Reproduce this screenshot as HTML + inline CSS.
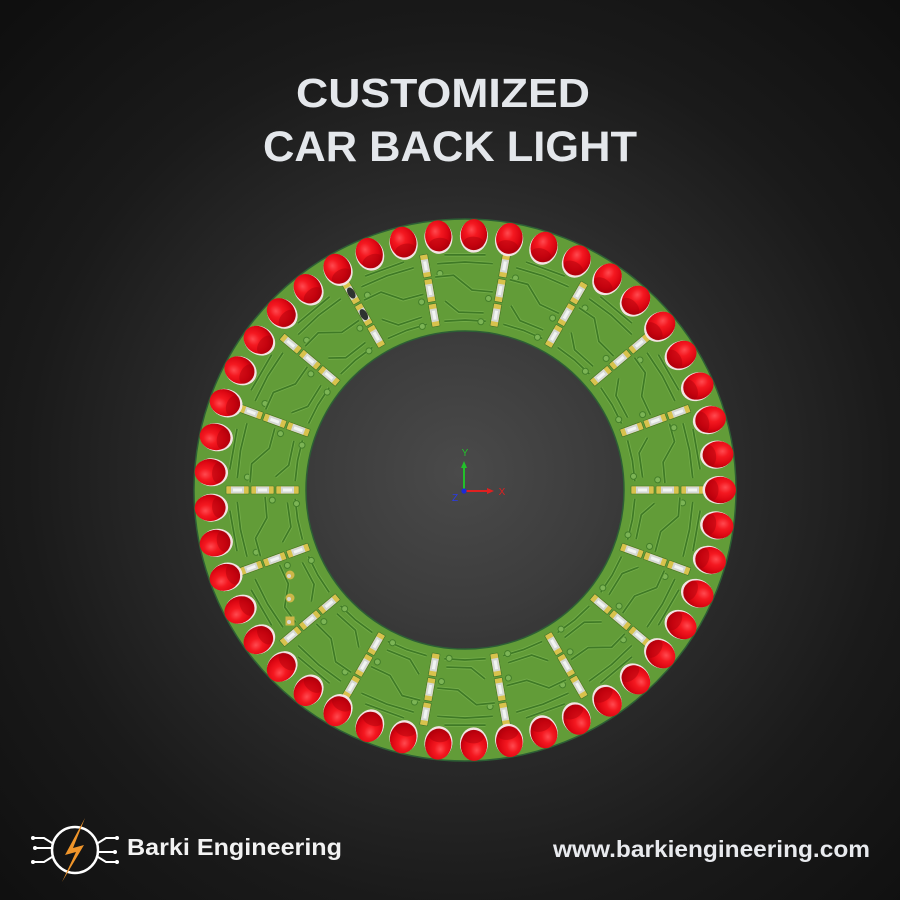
<!DOCTYPE html>
<html>
<head>
<meta charset="utf-8">
<style>
html,body{margin:0;padding:0;background:#111;}
#c{position:relative;width:900px;height:900px;overflow:hidden;
background:radial-gradient(ellipse 640px 640px at 460px 472px,#4a4a4a 0%,#3c3c3c 22%,#292929 45%,#1a1a1a 68%,#0f0f0f 100%);}
svg{position:absolute;left:0;top:0;}
</style>
</head>
<body>
<div id="c">
<svg width="900" height="900" viewBox="0 0 900 900" xmlns="http://www.w3.org/2000/svg">
<defs>
  <radialGradient id="lg" cx="0.62" cy="0.42" r="0.62" fx="0.66" fy="0.4">
    <stop offset="0" stop-color="#ff4a50"/>
    <stop offset="0.35" stop-color="#f41820"/>
    <stop offset="0.75" stop-color="#dc0612"/>
    <stop offset="1" stop-color="#b8000c"/>
  </radialGradient>
  <g id="led">
    <ellipse cx="719" cy="490" rx="16.5" ry="14" fill="#f3e4e4"/>
    <ellipse cx="720.5" cy="490" rx="15.5" ry="13.2" fill="url(#lg)"/>
    <ellipse cx="712" cy="490" rx="6.5" ry="10.5" fill="#a8000a" opacity="0.45"/>
  </g>
  <g id="pkg">
    <rect x="0" y="-4" width="23" height="8" rx="0.8" fill="#d8c24c" stroke="#3f7229" stroke-width="0.6"/>
    <rect x="5" y="-3.5" width="13" height="7" fill="#d4d8d4"/>
    <rect x="7" y="-1.5" width="9" height="3" fill="#f2f4f2"/>
  </g>
  <g id="res">
    <use href="#pkg" x="631" y="490"/>
    <use href="#pkg" x="656" y="490"/>
    <use href="#pkg" x="681" y="490"/>
  </g>
  <g id="trp">
    <path d="M634.8,481.1 L632.4,460.5 L627.6,440.3"/>
    <path d="M642.6,477.6 L639.1,453.0 L647.6,437.6"/>
    <path d="M664.9,483.0 L663.1,462.2 L674.5,441.6 L669.5,423.6"/>
    <path d="M692.7,478.1 L689.5,450.4 L683.0,423.3"/>
    <path d="M700.1,469.4 L693.0,428.9"/>
  </g>
  <g id="tr">
    <use href="#trp" fill="none" stroke="#74ad4a" stroke-width="3.4" stroke-linejoin="round"/>
    <use href="#trp" fill="none" stroke="#3f7a26" stroke-width="1.7" stroke-linejoin="round"/>
    <g fill="#7cb455" stroke="#447f2a" stroke-width="1">
      <circle cx="657.7" cy="479.9" r="3"/>
      <circle cx="682.6" cy="502.9" r="3"/>
      <circle cx="633.5" cy="476.4" r="3"/>
    </g>
    <use href="#res"/>
  </g>
  <g id="sec">
    <use href="#tr"/>
    <use href="#tr" transform="rotate(20 465 490)"/>
    <use href="#led"/>
    <use href="#led" transform="rotate(8 465 490)"/>
    <use href="#led" transform="rotate(16 465 490)"/>
    <use href="#led" transform="rotate(24 465 490)"/>
    <use href="#led" transform="rotate(32 465 490)"/>
  </g>
</defs>

<text x="296" y="107" font-family="'Liberation Sans', Arial, sans-serif" font-weight="bold" font-size="41" fill="#e4e7eb" textLength="294" lengthAdjust="spacingAndGlyphs">CUSTOMIZED</text>
<text x="263" y="161" font-family="'Liberation Sans', Arial, sans-serif" font-weight="bold" font-size="43" fill="#e4e7eb" textLength="374" lengthAdjust="spacingAndGlyphs">CAR BACK LIGHT</text>

<path d="M194,490 a271,271 0 1,0 542,0 a271,271 0 1,0 -542,0 Z M306,490 a159,159 0 1,0 318,0 a159,159 0 1,0 -318,0 Z" fill="#629c38" fill-rule="evenodd" stroke="#2d5f35" stroke-width="1.5"/>

<use href="#sec"/>
<use href="#sec" transform="rotate(40 465 490)"/>
<use href="#sec" transform="rotate(80 465 490)"/>
<use href="#sec" transform="rotate(120 465 490)"/>
<use href="#sec" transform="rotate(160 465 490)"/>
<use href="#sec" transform="rotate(200 465 490)"/>
<use href="#sec" transform="rotate(240 465 490)"/>
<use href="#sec" transform="rotate(280 465 490)"/>
<use href="#sec" transform="rotate(320 465 490)"/>

<ellipse cx="351.3" cy="293" rx="3.5" ry="6" fill="#2e3330" transform="rotate(-30 351.3 293)"/>
<ellipse cx="363.8" cy="314.6" rx="3.5" ry="6" fill="#2e3330" transform="rotate(-30 363.8 314.6)"/>

<circle cx="290" cy="575" r="4.5" fill="#cdb648"/><circle cx="289" cy="576" r="2" fill="#d8d8d0"/>
<circle cx="290" cy="598" r="4.5" fill="#cdb648"/><circle cx="289" cy="599" r="2" fill="#d8d8d0"/>
<rect x="285.5" y="616.5" width="9" height="9" fill="#cdb648"/><circle cx="289" cy="622" r="2" fill="#d8d8d0"/>

<line x1="464" y1="491" x2="464" y2="466" stroke="#22c02a" stroke-width="2"/>
<polygon points="464,461 461,468 467,468" fill="#22c02a"/>
<line x1="464" y1="491" x2="489" y2="491" stroke="#e02020" stroke-width="2"/>
<polygon points="494,491 487,488 487,494" fill="#e02020"/>
<circle cx="464" cy="491" r="2.6" fill="#1a2ad8"/>
<text x="465" y="456" font-family="'Liberation Sans', Arial, sans-serif" font-size="10" fill="#22c02a" text-anchor="middle">Y</text>
<text x="502" y="495" font-family="'Liberation Sans', Arial, sans-serif" font-size="10" fill="#e02020" text-anchor="middle">X</text>
<text x="455" y="501" font-family="'Liberation Sans', Arial, sans-serif" font-size="10" fill="#2a3ae8" text-anchor="middle">Z</text>

<g stroke="#ffffff" stroke-width="2" fill="none" stroke-linecap="round">
  <circle cx="75" cy="850" r="23" stroke-width="2.5"/>
  <path d="M34,838 L44,838 L52,843"/>
  <path d="M36,848 L52,848"/>
  <path d="M34,862 L44,862 L52,857"/>
  <path d="M116,838 L106,838 L98,843"/>
  <path d="M114,852 L98,852"/>
  <path d="M116,862 L106,862 L98,857"/>
</g>
<g fill="#ffffff">
  <circle cx="33" cy="838" r="2"/><circle cx="35" cy="848" r="2"/><circle cx="33" cy="862" r="2"/>
  <circle cx="117" cy="838" r="2"/><circle cx="115" cy="852" r="2"/><circle cx="117" cy="862" r="2"/>
</g>
<polygon points="85,818 65,855 76,852 62,882 84,845 73,848" fill="#f0952a"/>

<text x="127" y="855" font-family="'Liberation Sans', Arial, sans-serif" font-weight="bold" font-size="23" fill="#f2f2f2" textLength="215" lengthAdjust="spacingAndGlyphs">Barki Engineering</text>
<text x="553" y="857" font-family="'Liberation Sans', Arial, sans-serif" font-weight="bold" font-size="23" fill="#e8eaee" textLength="317" lengthAdjust="spacingAndGlyphs">www.barkiengineering.com</text>
</svg>
</div>
</body>
</html>
